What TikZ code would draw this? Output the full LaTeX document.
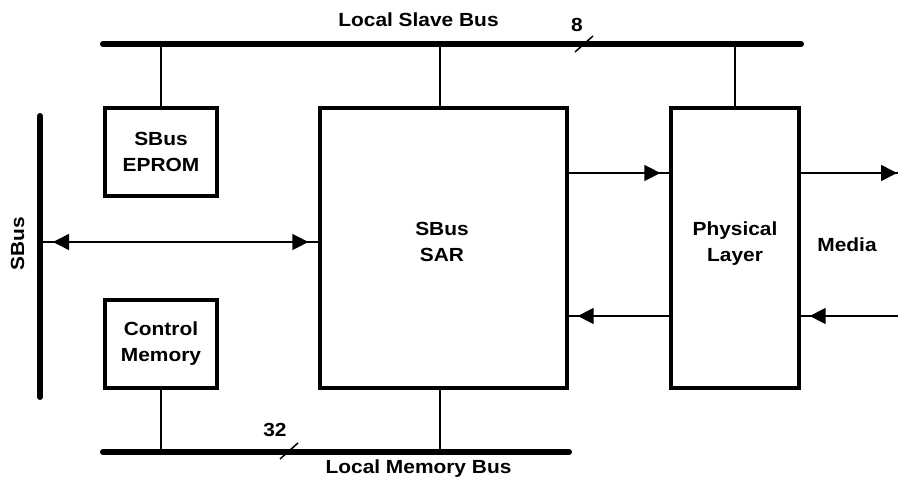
\documentclass[tikz,border=0pt]{standalone}
\usepackage{fontspec}
\setmainfont{Liberation Sans}[FakeStretch=1.1]
\usetikzlibrary{arrows.meta}
\begin{document}
\begin{tikzpicture}[x=1pt,y=-1pt,
  txt/.style={font=\bfseries\fontsize{19}{26}\selectfont, align=center, inner sep=0pt},
  blk/.style={draw, line width=3.3pt, inner sep=0pt},
  bus/.style={line width=6pt, line cap=round},
  wire/.style={line width=1.5pt},
  arrgap/.style={wire, postaction={draw, -{Triangle[length=16pt,width=16pt]}, shorten >=9pt}},
  arrboth/.style={wire, postaction={draw, {Triangle[length=16pt,width=16pt]}-{Triangle[length=16pt,width=16pt]}, shorten >=10pt, shorten <=10pt}}
]
\useasboundingbox (0,0) rectangle (898,478);

% buses
\coordinate (tl) at (103,44);
\coordinate (tr) at (801,44);
\coordinate (bl) at (103,452);
\coordinate (br) at (569,452);
\coordinate (st) at (40,116);
\coordinate (sb) at (40,397);
\draw[bus] (tl) -- (tr);
\draw[bus] (bl) -- (br);
\draw[bus] (st) -- (sb);

% blocks
\node[blk, minimum width=112pt, minimum height=88pt] (eprom) at (161,152) {};
\node[blk, minimum width=112pt, minimum height=88pt] (ctrl) at (161,344) {};
\node[blk, minimum width=247pt, minimum height=280pt] (sar) at (443.5,248) {};
\node[blk, minimum width=128pt, minimum height=280pt] (phy) at (735,248) {};

\node[txt] (epromt) at (161,152) {SBus\\EPROM};
\node[txt] (ctrlt) at (161,344) {Control\\Memory};
\node[txt] (sart) at (442,242) {SBus\\SAR};
\node[txt] (phyt) at (735,243.5) {Physical\\Layer};

% bus taps
\draw[wire] (eprom.north) -- (eprom.north |- tl);
\draw[wire] (sar.north -| 440,0) -- (440,44);
\draw[wire] (phy.north) -- (phy.north |- tl);
\draw[wire] (ctrl.south) -- (ctrl.south |- bl);
\draw[wire] (sar.south -| 440,0) -- (440,452);

% arrows
\coordinate (sbR) at (43,242);
\draw[arrboth] (sbR) -- (sar.west |- sbR);
\coordinate (a1) at (567,173);
\draw[arrgap] (sar.east |- a1) -- (phy.west |- a1);
\coordinate (medout) at (906,173);
\draw[arrgap] (phy.east |- a1) -- (medout);
\coordinate (a2) at (671,316);
\draw[arrgap] (phy.west |- a2) -- (sar.east |- a2);
\coordinate (medin) at (898,316);
\draw[arrgap] (medin) -- (phy.east |- medin);

% width marks
\coordinate (s8a) at (575,52);
\coordinate (s8b) at (593,36);
\draw[wire] (s8a) -- (s8b);
\coordinate (s32a) at (280,459);
\coordinate (s32b) at (298,443);
\draw[wire] (s32a) -- (s32b);

% labels
\node[txt, anchor=base] (lsb) at (418.5,27) {Local Slave Bus};
\node[txt, anchor=base] (n8) at (577,32) {8};
\node[txt, anchor=base] (n32) at (275,437) {32};
\node[txt, anchor=base] (lmb) at (418.5,473.5) {Local Memory Bus};
\node[txt, anchor=base] (media) at (847,252) {Media};
\node[txt, rotate=90] (sbus) at (17.5,244) {SBus};
\end{tikzpicture}
\end{document}
